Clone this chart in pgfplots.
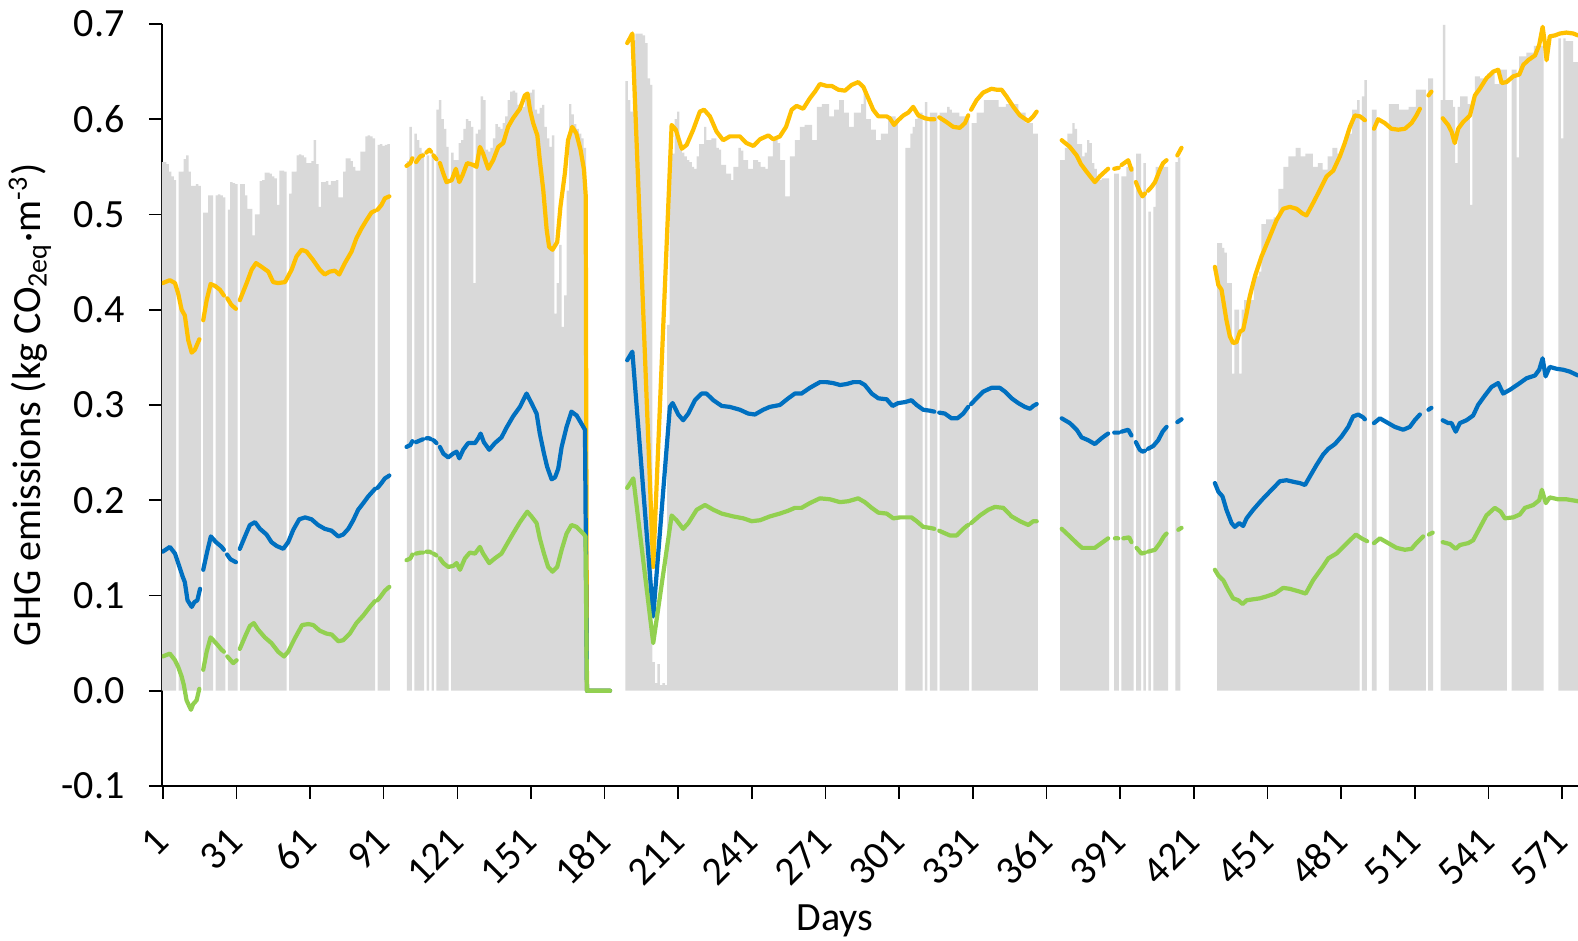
\documentclass[border=0pt]{standalone}
\usepackage{fontspec}
\setmainfont{Carlito}
\usepackage{pgfplots}
\pgfplotsset{compat=1.18}

\definecolor{barGray}{RGB}{217,217,217}
\definecolor{gold}{RGB}{255,192,0}
\definecolor{ocean}{RGB}{0,112,192}
\definecolor{leaf}{RGB}{146,208,80}

\pgfplotsset{
  series/.style={no markers, line width=1.2pt, line cap=round, line join=round},
}

\begin{document}
\begin{tikzpicture}
\begin{axis}[
  at={(0,0)}, anchor=south west,
  scale only axis, width=14.16cm, height=7.62cm,
  xmin=0.7, xmax=577.5, ymin=-0.1, ymax=0.7,
  axis x line*=bottom, axis y line*=left,
  axis line style={black, line width=0.45pt},
  tick style={black, line width=0.45pt},
  tick align=outside, major tick length=0.13cm,
  xtick={1,31,...,571},
  ytick={-0.1,0,0.1,0.2,0.3,0.4,0.5,0.6,0.7},
  /pgf/number format/assume math mode=true,
  tick label style={font=\fontsize{11.4}{13}\selectfont},
  yticklabel style={/pgf/number format/.cd, fixed, fixed zerofill, precision=1, /tikz/.cd, xshift=-0.12cm},
  xticklabel style={inner sep=0pt, xshift=-0.005cm, yshift=-0.355cm, rotate=45, anchor=east},
  label style={font=\fontsize{11.4}{13}\selectfont},
  xlabel={Days},
  xlabel style={at={(axis description cs:0.4753,0)}, anchor=center, yshift=-1.35cm},
  ylabel={GHG emissions (kg CO\textsubscript{2eq}·m\textsuperscript{-3})},
  ylabel style={at={(axis description cs:-0.0932,0.5)}, anchor=center},
  unbounded coords=jump,
]

% daily totals (grey bars)
\addplot[ybar, bar width=1, fill=barGray, draw=none] coordinates {
(1,0.555)(2,0.555)(3,0.553)(4,0.545)(5,0.54)(6,0.536)(8,0.545)(9,0.545)(10,0.558)(11,0.562)(12,0.545)(13,0.53)(14,0.53)(15,0.532)(16,0.53)(18,0.502)(19,0.502)(20,0.52)(21,0.52)(23,0.52)(24,0.521)(25,0.52)(26,0.518)(28,0.505)(29,0.534)(30,0.533)(31,0.532)(33,0.532)(34,0.532)(35,0.52)(36,0.506)(37,0.506)(38,0.478)(39,0.5)(40,0.5)(41,0.535)(42,0.536)(43,0.544)(44,0.544)(45,0.543)(46,0.54)(47,0.538)(48,0.51)(49,0.546)(50,0.546)(51,0.545)(53,0.522)(54,0.545)(55,0.545)(56,0.562)(57,0.563)(58,0.562)(59,0.56)(60,0.554)(61,0.554)(62,0.556)(63,0.578)(64,0.553)(65,0.508)(66,0.534)(67,0.534)(68,0.535)(69,0.531)(70,0.535)(71,0.535)(72,0.536)(73,0.518)(74,0.518)(75,0.545)(76,0.559)(77,0.559)(78,0.556)(79,0.55)(80,0.546)(81,0.546)(82,0.566)(83,0.566)(84,0.582)(85,0.583)(86,0.582)(87,0.58)(89,0.573)(90,0.574)(91,0.572)(92,0.573)(93,0.574)
(101,0.556)(102,0.592)(104,0.585)(105,0.578)(106,0.57)(107,0.565)(109,0.562)(111,0.565)(113,0.61)(114,0.62)(115,0.6)(116,0.59)(117,0.571)(119,0.565)(120,0.557)(121,0.557)(122,0.575)(123,0.578)(124,0.59)(125,0.6)(126,0.598)(127,0.592)(128,0.428)(129,0.585)(130,0.589)(131,0.624)(132,0.62)(133,0.568)(134,0.566)(135,0.57)(136,0.58)(137,0.595)(138,0.592)(139,0.59)(140,0.596)(141,0.603)(142,0.62)(143,0.629)(144,0.63)(145,0.628)(146,0.615)(147,0.61)(148,0.613)(149,0.622)(150,0.627)(151,0.628)(152,0.631)(153,0.61)(154,0.606)(155,0.612)(156,0.615)(157,0.592)(158,0.58)(159,0.571)(160,0.583)(161,0.396)(162,0.428)(163,0.468)(164,0.382)(165,0.415)(166,0.525)(167,0.616)(168,0.605)(169,0.595)(170,0.59)(171,0.585)(172,0.58)(173,0.57)
(190,0.64)(191,0.62)(192,0.608)(193,0.683)(194,0.69)(195,0.69)(196,0.69)(197,0.688)(198,0.68)(199,0.643)(200,0.636)(201,0.03)(202,0.008)(203,0.028)(204,0.006)(205,0.008)(206,0.006)(207,0.384)(208,0.564)(209,0.564)(210,0.6)(211,0.608)(212,0.568)(213,0.565)(214,0.561)(215,0.557)(216,0.555)(217,0.55)(218,0.548)(219,0.561)(220,0.574)(221,0.574)(222,0.592)(223,0.578)(224,0.578)(225,0.58)(226,0.58)(227,0.57)(228,0.568)(229,0.552)(230,0.552)(231,0.543)(232,0.543)(233,0.536)(234,0.55)(235,0.55)(236,0.57)(237,0.567)(238,0.557)(239,0.557)(240,0.548)(241,0.548)(242,0.557)(243,0.557)(244,0.555)(245,0.55)(246,0.55)(247,0.548)(248,0.561)(249,0.561)(250,0.578)(251,0.578)(252,0.575)(253,0.557)(254,0.557)(255,0.519)(256,0.519)(257,0.561)(258,0.561)(259,0.578)(260,0.578)(261,0.592)(262,0.592)(263,0.594)(264,0.594)(265,0.594)(266,0.578)(267,0.578)(268,0.613)(269,0.613)(270,0.616)(271,0.616)(272,0.616)(273,0.603)(274,0.603)(275,0.61)(276,0.61)(277,0.62)(278,0.62)(279,0.607)(280,0.607)(281,0.592)(282,0.592)(283,0.607)(284,0.607)(285,0.607)(286,0.616)(287,0.631)(288,0.6)(289,0.6)(290,0.589)(291,0.589)(292,0.578)(293,0.578)(294,0.585)(295,0.585)(296,0.585)(297,0.603)(298,0.603)(299,0.603)(300,0.6)
(304,0.57)(305,0.57)(306,0.585)(307,0.592)(308,0.6)(309,0.607)(310,0.607)(312,0.618)(314,0.607)(315,0.607)(316,0.607)(318,0.607)(319,0.607)(320,0.607)(321,0.613)(322,0.61)(323,0.607)(324,0.607)(325,0.607)(326,0.603)(327,0.603)(328,0.603)(329,0.6)(331,0.596)(332,0.596)(333,0.607)(334,0.607)(335,0.607)(336,0.62)(337,0.62)(338,0.62)(339,0.62)(340,0.62)(341,0.62)(342,0.613)(343,0.613)(344,0.613)(345,0.616)(346,0.616)(347,0.616)(348,0.616)(349,0.616)(350,0.607)(351,0.607)(352,0.607)(353,0.596)(354,0.596)(355,0.596)(356,0.585)(357,0.585)
(367,0.557)(368,0.557)(369,0.57)(370,0.585)(371,0.585)(372,0.596)(373,0.59)(374,0.574)(375,0.574)(376,0.561)(377,0.565)(378,0.578)(379,0.575)(380,0.554)(381,0.548)(382,0.54)(383,0.536)(384,0.538)(385,0.538)(386,0.538)(389,0.543)(390,0.543)(392,0.54)(393,0.54)(394,0.55)(395,0.55)(396,0.55)(398,0.564)(399,0.564)(401,0.554)(403,0.503)(405,0.508)(406,0.55)(407,0.55)(408,0.55)(409,0.55)(410,0.55)(414,0.555)(415,0.56)
(431,0.47)(432,0.47)(433,0.465)(434,0.46)(435,0.428)(436,0.428)(437,0.333)(438,0.4)(439,0.4)(440,0.333)(441,0.4)(442,0.41)(443,0.41)(444,0.41)(445,0.41)(446,0.435)(447,0.435)(448,0.44)(449,0.49)(450,0.49)(451,0.495)(452,0.495)(453,0.495)(454,0.497)(455,0.497)(456,0.527)(457,0.527)(458,0.55)(459,0.55)(460,0.561)(461,0.561)(462,0.561)(463,0.57)(464,0.57)(465,0.561)(466,0.561)(467,0.564)(468,0.564)(469,0.564)(470,0.55)(471,0.55)(472,0.554)(473,0.554)(474,0.547)(475,0.547)(476,0.561)(477,0.561)(478,0.57)(479,0.57)(480,0.564)(481,0.564)(482,0.574)(483,0.574)(484,0.585)(485,0.585)(486,0.61)(487,0.61)(488,0.62)(490,0.624)(491,0.641)(494,0.61)(495,0.61)(501,0.616)(502,0.616)(503,0.616)(504,0.616)(505,0.61)(506,0.61)(507,0.61)(508,0.61)(509,0.613)(510,0.613)(511,0.613)(512,0.631)(513,0.631)(514,0.631)(515,0.631)(517,0.643)(518,0.643)(522,0.62)(523,0.699)(524,0.62)(525,0.62)(526,0.62)(527,0.613)(528,0.554)(529,0.613)(530,0.624)(531,0.624)(532,0.624)(533,0.616)(534,0.51)(535,0.616)(536,0.645)(537,0.645)(538,0.643)(539,0.643)(540,0.643)(541,0.648)(542,0.648)(543,0.648)(544,0.637)(545,0.637)(546,0.652)(547,0.652)(548,0.652)(551,0.652)(552,0.652)(553,0.56)(554,0.666)(555,0.666)(556,0.666)(557,0.67)(558,0.67)(559,0.67)(560,0.677)(561,0.677)(562,0.677)(563,0.677)(570,0.685)(571,0.58)(572,0.685)(573,0.682)(574,0.682)(575,0.682)(576,0.66)(577,0.66)
};

% upper series
\addplot[series, gold] coordinates {
(1,0.428)(3.9,0.431)(6,0.428)(7.3,0.417)(8.7,0.4)(10,0.394)(11.4,0.368)(12.8,0.355)(14.1,0.358)(15.9,0.369)
(16.7,nan)
(17.5,0.389)(18.9,0.41)(20.5,0.427)(22.3,0.425)(24.3,0.421)(25.9,0.415)
(26.6,nan)
(27.3,0.412)(29,0.405)(30.8,0.401)
(31.6,nan)
(32.4,0.41)(35.2,0.428)(37.2,0.442)(39,0.449)(41.3,0.445)(44,0.44)(46,0.429)(48,0.428)(50.8,0.429)(53.5,0.442)(55.5,0.456)(57.6,0.463)(59.6,0.461)(62.3,0.452)(65,0.442)(67,0.437)(69,0.44)(71.1,0.441)(72.9,0.437)(75.2,0.449)(77.9,0.461)(79.9,0.475)(81.9,0.485)(84,0.494)(86,0.502)(87.5,0.504)
(88,nan)
(88.5,0.505)(90.1,0.51)(91.5,0.517)(93.3,0.519)
(97,nan)
(100.3,0.551)(101.9,0.554)(102.7,0.559)
(103.4,nan)
(104.2,0.555)(105.9,0.561)(107,0.562)
(107.7,nan)
(108.4,0.565)(109.6,0.568)(110.3,0.566)
(110.8,nan)
(111.3,0.562)(112.5,0.558)
(113.1,nan)
(113.9,0.554)(115.3,0.543)(116.6,0.534)(118.7,0.536)(120.4,0.548)(121.8,0.534)(123.1,0.541)(125,0.554)(127.5,0.552)(128.8,0.55)(130.2,0.571)(131.5,0.564)(133.6,0.548)(135.6,0.557)(137.7,0.571)(139.7,0.575)(141.7,0.592)(143.7,0.601)(146.5,0.611)(148.5,0.625)(149.6,0.627)(150.6,0.61)(151.9,0.596)(153.6,0.583)(154.6,0.557)(156,0.526)(157.4,0.484)(158.4,0.466)(159.8,0.463)(161.7,0.471)(163,0.508)(164.8,0.543)(166.1,0.578)(167.8,0.592)(169.5,0.585)(171.2,0.568)(172.6,0.547)(173.3,0.52)(173.8,0)(183.2,0)
(186,nan)
(190.2,0.68)(191.3,0.685)(192.3,0.69)(200.8,0.13)(208.3,0.594)(210,0.589)(212.4,0.569)(214.4,0.573)(217.1,0.589)(219.8,0.608)(221.5,0.61)(223.9,0.603)(226.6,0.587)(229.3,0.578)(232,0.582)(236.1,0.582)(238.8,0.575)(241.6,0.572)(244.3,0.579)(247.7,0.583)(249.7,0.579)(252.4,0.582)(254.9,0.592)(257.2,0.61)(259.2,0.614)(261.9,0.611)(264.6,0.622)(266.7,0.629)(268.7,0.637)(271.4,0.635)(273.5,0.635)(276.2,0.631)(278.9,0.63)(281.6,0.636)(284.3,0.639)(286.4,0.634)(288.4,0.622)(290.4,0.61)(292.5,0.603)(295.9,0.603)(297.2,0.601)(298.9,0.594)(300.6,0.599)(302.7,0.604)(304.7,0.607)(306.7,0.613)(308.8,0.604)(311.5,0.601)(313.5,0.6)(315.3,0.6)
(316.3,nan)
(317.3,0.602)(320.3,0.597)(323,0.592)(325.7,0.591)(327.8,0.596)(329.1,0.604)
(329.7,nan)
(330.3,0.61)(332.5,0.62)(335.2,0.628)(338.6,0.632)(340.7,0.631)(342.7,0.631)(344.7,0.624)(347.5,0.613)(350.2,0.604)(353.6,0.598)(355.6,0.603)(357,0.608)
(362,nan)
(367.2,0.578)(370.5,0.571)(373.3,0.562)(375,0.553)(377.3,0.545)(380.7,0.534)(382.7,0.54)(384.8,0.545)(386.1,0.548)
(387.3,nan)
(388.6,0.548)(390.4,0.549)
(391,nan)
(391.6,0.552)(394.3,0.557)(395.6,0.547)
(396.5,nan)
(397.4,0.534)(399,0.524)(400.1,0.519)(401.1,0.522)
(401.7,nan)
(402.4,0.525)(403.8,0.529)(405.2,0.534)(407.2,0.547)(408.5,0.554)(409.9,0.557)
(412,nan)
(414.3,0.562)(416,0.57)
(422,nan)
(429.6,0.445)(431,0.426)(432.3,0.421)(434.3,0.389)(435.7,0.372)(437,0.365)(438.4,0.366)(439.8,0.377)(441.1,0.379)(442.5,0.396)(443.8,0.414)(445.9,0.435)(448.6,0.456)(452,0.477)(454.7,0.494)(457.4,0.506)(460.1,0.508)(462.9,0.506)(465.3,0.501)(466.9,0.499)(469.6,0.512)(472.4,0.526)(475.1,0.54)(477.8,0.546)(480.5,0.561)(482.5,0.575)(484.6,0.592)(486.6,0.604)(488.7,0.603)(490.7,0.599)
(492.5,nan)
(494.4,0.59)(496.1,0.6)(498.8,0.596)(501.5,0.59)(504.3,0.589)(507,0.59)(509.7,0.596)(511.7,0.604)(513.1,0.611)
(515,nan)
(516.6,0.625)(517.8,0.629)
(520,nan)
(522.4,0.601)(524.6,0.594)(526,0.587)(527.3,0.575)(528.7,0.59)(530.7,0.597)(533.5,0.604)(535.5,0.625)(537.5,0.632)(540.2,0.643)(543,0.65)(545,0.652)(546.4,0.638)(548.4,0.639)(551.1,0.645)(553.6,0.647)(555.2,0.657)(557.2,0.662)(560,0.667)(561.7,0.678)(563.1,0.697)(564,0.68)(564.7,0.662)(566,0.687)(568.1,0.688)(570.1,0.69)(572.8,0.691)(575.6,0.69)(577.5,0.688)
};

% middle series
\addplot[series, ocean] coordinates {
(1,0.146)(3.9,0.151)(6,0.144)(7.3,0.134)(9.1,0.12)(10,0.114)(11.1,0.095)(12.8,0.088)(13.9,0.093)(15.1,0.095)(16.2,0.107)
(16.8,nan)
(17.5,0.127)(19.1,0.146)(20.6,0.162)(22.7,0.156)(25,0.151)(25.9,0.148)
(26.6,nan)
(27.2,0.143)(28.6,0.138)(30.8,0.135)
(31.6,nan)
(32.4,0.149)(34.5,0.162)(36.5,0.174)(38.6,0.177)(40.6,0.17)(43.3,0.164)(45.3,0.156)(47.4,0.152)(50.1,0.149)(52.1,0.156)(54.2,0.169)(56.6,0.18)(59,0.182)(61.6,0.18)(64.3,0.174)(67,0.17)(69.8,0.168)(72.5,0.162)(74.5,0.164)(76.6,0.17)(78.6,0.179)(80.6,0.19)(82.7,0.197)(84.7,0.204)(86.8,0.21)(87.5,0.212)
(88,nan)
(88.5,0.213)(90.1,0.218)(91.5,0.223)(92.8,0.225)(93.3,0.226)
(97,nan)
(100.3,0.256)(101.9,0.258)(102.7,0.262)
(103.4,nan)
(104.2,0.261)(106,0.263)(107,0.264)
(107.7,nan)
(108.4,0.265)(109.6,0.265)(110.3,0.264)
(110.8,nan)
(111.3,0.263)(112.5,0.26)
(113.1,nan)
(113.9,0.256)(115.3,0.249)(117.3,0.245)(119.3,0.249)(120.7,0.251)(121.8,0.244)(123.4,0.253)(125.4,0.26)(128.2,0.26)(129.5,0.265)(130.5,0.27)(131.8,0.261)(134,0.253)(136.3,0.26)(139,0.266)(141,0.276)(143.7,0.288)(146.5,0.298)(149.2,0.312)(151.2,0.302)(153.3,0.291)(154.6,0.27)(156.3,0.249)(157.6,0.235)(159.4,0.222)(160.8,0.224)(162.1,0.233)(163.5,0.256)(165.5,0.277)(167.5,0.293)(169.6,0.289)(171.2,0.282)(173,0.274)(173.8,0)(183.2,0)
(186,nan)
(190.2,0.347)(192.3,0.356)(200.8,0.078)(207.6,0.298)(208.7,0.302)(211,0.29)(213,0.284)(215.1,0.291)(217.8,0.305)(220.5,0.312)(222.5,0.312)(225.3,0.305)(228.7,0.299)(232,0.298)(236.1,0.295)(239.5,0.291)(242.2,0.29)(245.6,0.295)(248.3,0.298)(252.4,0.3)(255.8,0.307)(258.5,0.312)(261.2,0.312)(264.6,0.318)(268.7,0.324)(271.4,0.324)(274.1,0.323)(276.9,0.321)(279.6,0.322)(282.3,0.324)(285,0.324)(287,0.321)(289.8,0.312)(292.5,0.307)(295.9,0.306)(298.3,0.299)(300.6,0.302)(303.3,0.303)(306,0.305)(308.1,0.3)(310.8,0.295)(313.5,0.294)(315.3,0.293)
(316.3,nan)
(317.3,0.292)(319.6,0.291)(322.3,0.286)(324.7,0.286)(327.1,0.291)(328.5,0.296)(329.1,0.298)
(329.7,nan)
(330.3,0.301)(332.5,0.307)(335.2,0.314)(338.6,0.318)(342,0.318)(344.1,0.314)(346.8,0.307)(349.5,0.302)(352.2,0.298)(354.3,0.296)(355.6,0.299)(357,0.301)
(362,nan)
(367.2,0.286)(370.5,0.281)(373.3,0.274)(375.3,0.266)(378,0.263)(380.7,0.259)(383.4,0.265)(385.5,0.269)(386.1,0.27)
(387.3,nan)
(388.6,0.271)(390.4,0.271)
(391,nan)
(391.6,0.272)(394.3,0.274)(395.6,0.268)
(396.5,nan)
(397.4,0.261)(399,0.253)(400.1,0.251)(401.1,0.252)
(401.7,nan)
(402.4,0.254)(404.5,0.257)(406.5,0.263)(408.3,0.272)(409.9,0.277)
(412,nan)
(414.3,0.282)(416,0.285)
(422,nan)
(429.6,0.218)(431,0.209)(432.7,0.204)(434.3,0.19)(436.4,0.176)(437.7,0.172)(439.5,0.176)(441.1,0.173)(442.5,0.181)(445.2,0.19)(448.6,0.2)(452.7,0.211)(456.1,0.22)(458.8,0.221)(462.2,0.219)(464.2,0.218)(466.3,0.216)(468.3,0.225)(471,0.237)(473.7,0.248)(475.8,0.254)(478.5,0.259)(481.2,0.267)(483.9,0.277)(485.9,0.288)(488,0.29)(490,0.287)(490.7,0.285)
(492.5,nan)
(494.4,0.281)(496.8,0.286)(499.5,0.282)(502.9,0.277)(506.3,0.274)(509,0.277)(511,0.284)(512.4,0.288)(513.1,0.29)
(515,nan)
(516.6,0.295)(517.8,0.297)
(520,nan)
(522.4,0.284)(524.6,0.281)(526,0.281)(527.7,0.272)(529.4,0.281)(532.1,0.284)(534.8,0.289)(536.8,0.3)(539.6,0.31)(542.3,0.319)(545,0.323)(547,0.312)(549.8,0.316)(553.8,0.323)(556.5,0.328)(560,0.331)(561.7,0.337)(563.1,0.349)(564.3,0.33)(566,0.34)(568.8,0.338)(571.5,0.337)(574.2,0.335)(577.5,0.331)
};

% lower series
\addplot[series, leaf] coordinates {
(1,0.036)(3.9,0.039)(6,0.032)(7.3,0.025)(8.7,0.015)(9.6,0.006)(10.7,-0.01)(12.5,-0.02)(13.4,-0.014)(14.8,-0.01)(15.9,0.002)
(16.7,nan)
(17.5,0.022)(18.9,0.041)(20.5,0.056)(22.7,0.05)(25,0.043)(25.9,0.041)
(26.6,nan)
(27.3,0.036)(29.7,0.029)(31.1,0.032)
(31.6,nan)
(32.4,0.044)(34.9,0.059)(36.5,0.068)(38.1,0.071)(39.9,0.064)(42.6,0.056)(45.3,0.05)(48,0.041)(50.4,0.036)(52.1,0.041)(54.8,0.055)(57.8,0.069)(60.3,0.07)(62.3,0.069)(65,0.063)(67.7,0.06)(69.8,0.059)(72.5,0.052)(74.5,0.053)(77.2,0.06)(79.9,0.071)(82.7,0.079)(85.4,0.088)(87.4,0.094)
(88,nan)
(88.5,0.095)(89.5,0.098)(91.5,0.105)(92.8,0.108)(93.3,0.109)
(97,nan)
(100.3,0.137)(101.9,0.139)(102.7,0.143)
(103.4,nan)
(104.2,0.144)(106,0.145)(107,0.145)
(107.7,nan)
(108.4,0.146)(109.7,0.146)(110.3,0.145)
(110.8,nan)
(111.3,0.144)(112.5,0.142)
(113.1,nan)
(113.9,0.139)(115.3,0.134)(117.3,0.13)(119.3,0.131)(120.7,0.134)(122.1,0.127)(124.1,0.139)(126.1,0.145)(128.2,0.144)(130.2,0.151)(131.5,0.144)(134,0.134)(136.3,0.139)(139,0.144)(141,0.153)(143.7,0.165)(146.5,0.177)(149.5,0.188)(151.2,0.183)(153.3,0.176)(154.6,0.16)(156.3,0.144)(158,0.13)(159.8,0.125)(161.7,0.13)(163.5,0.148)(165.5,0.165)(167.5,0.174)(169.6,0.172)(172.3,0.165)(173.2,0.162)(173.8,0)(183.2,0)
(186,nan)
(190.2,0.213)(192.7,0.223)(200.8,0.05)(208.3,0.184)(210.3,0.179)(213,0.17)(215.1,0.176)(218.5,0.19)(221.9,0.195)(225.3,0.19)(228.7,0.186)(233.4,0.183)(237.5,0.181)(240.9,0.178)(244.3,0.179)(248.3,0.183)(252.4,0.186)(255.8,0.189)(258.5,0.192)(261.2,0.192)(264.6,0.197)(268.7,0.202)(272.8,0.201)(276.9,0.198)(280.3,0.199)(284.3,0.202)(287,0.198)(289.8,0.192)(292.5,0.187)(295.9,0.186)(298.6,0.181)(301.3,0.182)(306,0.182)(308.1,0.178)(310.8,0.172)(313.5,0.171)(315.3,0.17)
(316.3,nan)
(317.3,0.168)(319,0.166)(321.7,0.163)(324.4,0.163)(327.1,0.17)(328.5,0.173)(329.1,0.174)
(329.7,nan)
(330.3,0.176)(333.9,0.184)(337.3,0.19)(340,0.193)(343.4,0.192)(346.8,0.183)(350.2,0.178)(353.6,0.174)(355.6,0.178)(357,0.178)
(362,nan)
(367.2,0.17)(370.5,0.162)(373.3,0.155)(375.5,0.15)(377.3,0.15)(380.7,0.15)(383.4,0.155)(386.1,0.16)
(387.3,nan)
(388.9,0.16)(390.2,0.16)
(391,nan)
(392.3,0.16)(394.7,0.161)(395.6,0.156)
(396.5,nan)
(397.7,0.15)(399.7,0.144)(401.1,0.145)
(401.7,nan)
(402.4,0.146)(405.2,0.148)(407.2,0.155)(408.8,0.162)(409.9,0.165)
(412,nan)
(414.7,0.169)(416,0.171)
(422,nan)
(429.6,0.127)(431,0.121)(433,0.116)(435,0.106)(437,0.097)(439.1,0.095)(440.9,0.091)(442.5,0.095)(445.2,0.096)(447.9,0.097)(450.6,0.099)(454,0.102)(457.4,0.108)(460.1,0.107)(464.2,0.104)(466.6,0.102)(469.6,0.116)(473.5,0.13)(475.8,0.139)(479.1,0.144)(481.9,0.151)(484.6,0.158)(487,0.164)(489.3,0.16)(491.6,0.157)
(492.8,nan)
(494.4,0.155)(496.8,0.16)(500.2,0.155)(503.6,0.15)(507,0.148)(509.7,0.149)(511.7,0.155)(514.4,0.162)
(515.5,nan)
(516.8,0.164)(518.3,0.166)
(520,nan)
(522.4,0.156)(525.3,0.154)(527.7,0.149)(529.4,0.153)(532.8,0.155)(534.8,0.158)(537.5,0.171)(540.2,0.184)(543.6,0.192)(546,0.188)(547.7,0.181)(551.1,0.182)(553.8,0.185)(555.9,0.192)(559.3,0.195)(561.7,0.2)(562.8,0.211)(564.4,0.197)(566,0.203)(569.4,0.201)(572.8,0.201)(577.5,0.199)
};
\end{axis}
\pgfresetboundingbox
\path[use as bounding box] (-1.62,-1.55) rectangle (14.16,7.86);
\end{tikzpicture}
\end{document}
